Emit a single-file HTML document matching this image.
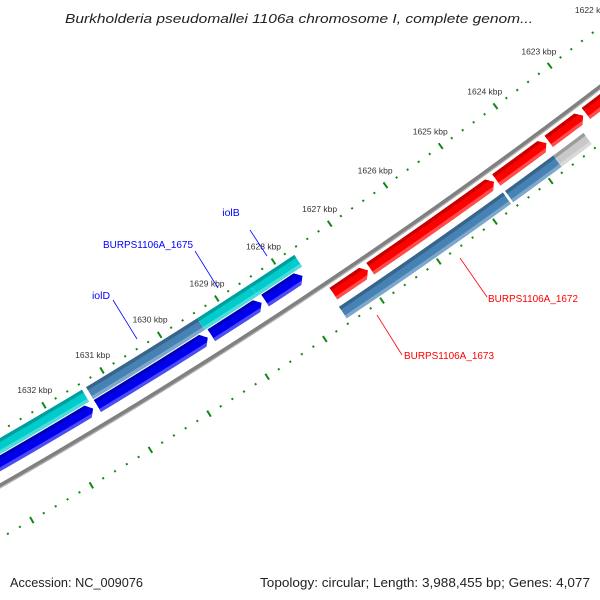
<!DOCTYPE html>
<html><head><meta charset="utf-8"><style>
html,body{margin:0;padding:0;background:#fff;width:600px;height:600px;overflow:hidden}
svg{display:block;font-family:"Liberation Sans",sans-serif}
</style></head><body>
<svg id="map" width="600" height="600" viewBox="0 0 600 600" xmlns="http://www.w3.org/2000/svg">
<defs id="defs"></defs>
<rect width="600" height="600" fill="#fff"/>
<g id="rulers"></g>
<g id="backbone"></g>
<g id="features"></g>
<g id="labels">
  <line x1="250" y1="230" x2="267" y2="256" stroke="#0000ff" stroke-width="0.8"/>
  <text x="231" y="216" font-size="10.5" fill="#0000ff" text-anchor="middle">iolB</text>
  <line x1="195" y1="251" x2="218" y2="288" stroke="#0000ff" stroke-width="0.8"/>
  <text x="103" y="248" font-size="10.5" fill="#0000ff" textLength="90" lengthAdjust="spacingAndGlyphs">BURPS1106A_1675</text>
  <line x1="113" y1="300" x2="137" y2="339" stroke="#0000ff" stroke-width="0.8"/>
  <text x="101" y="299" font-size="10.5" fill="#0000ff" text-anchor="middle">iolD</text>
  <line x1="460" y1="258" x2="487" y2="297" stroke="#ff0000" stroke-width="0.8"/>
  <text x="488" y="302" font-size="10.5" fill="#ff0000" textLength="90" lengthAdjust="spacingAndGlyphs">BURPS1106A_1672</text>
  <line x1="377" y1="315" x2="402" y2="355" stroke="#ff0000" stroke-width="0.8"/>
  <text x="404" y="359" font-size="10.5" fill="#ff0000" textLength="90" lengthAdjust="spacingAndGlyphs">BURPS1106A_1673</text>
</g>
<text x="65" y="23" font-size="13" font-style="italic" fill="#222" textLength="468" lengthAdjust="spacingAndGlyphs">Burkholderia pseudomallei 1106a chromosome I, complete genom...</text>
<text x="10" y="587" font-size="12.5" fill="#222" textLength="133" lengthAdjust="spacingAndGlyphs">Accession: NC_009076</text>
<text x="260" y="587" font-size="12.5" fill="#222" textLength="330" lengthAdjust="spacingAndGlyphs">Topology: circular; Length: 3,988,455 bp; Genes: 4,077</text>
</svg>
<script>
// ruler data
const majorTicks = [1621,1622,1623,1624,1625,1626,1627,1628,1629,1630,1631,1632,1633,1634];
const tickLabels = ["1621 kbp","1622 kbp","1623 kbp","1624 kbp","1625 kbp","1626 kbp","1627 kbp","1628 kbp","1629 kbp","1630 kbp","1631 kbp","1632 kbp","1633 kbp","1634 kbp"];
const minorStep = 0.2;
// feature data (kbp)
const featStart = [1633.6,1631.33,1629.40,1628.48, 1633.6,1631.33,1629.36,1628.42, 1627.53,1626.88,1624.63,1623.68,1623.00, 1627.57,1624.62,1623.75];
const featEnd   = [1631.40,1629.40,1628.48,1627.69, 1631.40,1629.42,1628.48,1627.76, 1626.92,1624.67,1623.72,1623.05,1621.50, 1624.66,1623.75,1623.20];
const featTrack = ["cds","cds","cds","cds","negArrow","negArrow","negArrow","negArrow","posArrow","posArrow","posArrow","posArrow","posArrow","cds2","cds2","cds2"];
const featColor = ["#00cccc","#4682b4","#00cccc","#00cccc","#0000ee","#0000ee","#0000ee","#0000ee","#ff0000","#ff0000","#ff0000","#ff0000","#ff0000","#4682b4","#4682b4","#c8c8c8"];

const NS="http://www.w3.org/2000/svg";
const CX=-2680, CY=-4197, R0=5395;
const TH0=59.38, DEG_PER_KBP=0.7256;
function ang(k){return (TH0-(1632-k)*DEG_PER_KBP)*Math.PI/180;}
function pt(k,r){const a=ang(k);return [CX+r*Math.cos(a),CY+r*Math.sin(a)];}
const trackR={cds:[R0-41,R0-27],negArrow:[R0-26,R0-12],posArrow:[R0+6,R0+20],cds2:[R0+27,R0+41]};
function arcPts(k1,k2,r,n){const o=[];for(let i=0;i<=n;i++){o.push(pt(k1+(k2-k1)*i/n,r));}return o;}
function shade(c,f){const n=parseInt(c.slice(1),16);let r=n>>16,g=(n>>8)&255,b=n&255;
 if(f<0){r*=1+f;g*=1+f;b*=1+f;}else{r+=(255-r)*f;g+=(255-g)*f;b+=(255-b)*f;}
 return "rgb("+Math.round(r)+","+Math.round(g)+","+Math.round(b)+")";}
const P=a=>a.map(p=>p[0].toFixed(2)+","+p[1].toFixed(2)).join(" ");

// rulers
const rul=document.getElementById('rulers');
[R0-47,R0+46].forEach((rr,ri)=>{
 for(let k=1620;k<=1635.001;k+=minorStep){
  const kk=Math.round(k*10)/10;
  const isMajor=majorTicks.indexOf(kk)>=0;
  const a=pt(kk,rr-(isMajor?3.5:1)),b=pt(kk,rr+(isMajor?3.5:1));
  const ln=document.createElementNS(NS,'line');
  ln.setAttribute('x1',a[0]);ln.setAttribute('y1',a[1]);ln.setAttribute('x2',b[0]);ln.setAttribute('y2',b[1]);
  ln.setAttribute('stroke','#118811');ln.setAttribute('stroke-width',isMajor?2:2);
  
  
  rul.appendChild(ln);
 }
 if(ri===0){
  majorTicks.forEach((k,i)=>{
   const p=pt(k,rr-18);
   const t=document.createElementNS(NS,'text');
   t.setAttribute('x',p[0]);t.setAttribute('y',p[1]+3);t.setAttribute('text-anchor','middle');
   t.setAttribute('font-size','8.5');t.setAttribute('fill','#333');
   t.textContent=tickLabels[i];
   
   
   rul.appendChild(t);
  });
 }
});

// backbone
const bb=document.getElementById('backbone');
[[R0+2,'#b4b4b4',2],[R0,'#808080',3.5]].forEach(s=>{
 const pl=document.createElementNS(NS,'polyline');
 pl.setAttribute('points',P(arcPts(1620,1636,s[0],40)));
 pl.setAttribute('fill','none');pl.setAttribute('stroke',s[1]);pl.setAttribute('stroke-width',s[2]);
 
 
 bb.appendChild(pl);
});

// features
const fg=document.getElementById('features'),defs=document.getElementById('defs');
const HEAD=0.09;
featStart.forEach((s,i)=>{
 const e=featEnd[i],tr=featTrack[i],[r1,r2]=trackR[tr],col=featColor[i];
 let pts;
 if(tr==='negArrow'||tr==='posArrow'){
  const dir=e<s?1:-1; // head at e
  const hb=e+dir*HEAD;
  pts=arcPts(s,hb,r1,8).concat([pt(e,(r1+r2)/2)]).concat(arcPts(hb,s,r2,8));
 } else {
  pts=arcPts(s,e,r1,8).concat(arcPts(e,s,r2,8));
 }
 const cp=document.createElementNS(NS,'clipPath');cp.setAttribute('id','cp'+i);
 const cpp=document.createElementNS(NS,'polygon');cpp.setAttribute('points',P(pts));cp.appendChild(cpp);defs.appendChild(cp);
 const g=document.createElementNS(NS,'g');
 g.setAttribute('clip-path','url(#cp'+i+')');
 
 
 const poly=document.createElementNS(NS,'polygon');poly.setAttribute('points',P(pts));poly.setAttribute('fill',col);
 g.appendChild(poly);
 const w=r2-r1;
 [[r1+w*0.12,w*0.26,shade(col,-0.22)],[r2-w*0.12,w*0.26,shade(col,0.3)]].forEach(st=>{
  const pl=document.createElementNS(NS,'polyline');
  pl.setAttribute('points',P(arcPts(s+0.3,e-0.3,st[0],8)));
  pl.setAttribute('fill','none');pl.setAttribute('stroke',st[2]);pl.setAttribute('stroke-width',st[1]);
  g.appendChild(pl);
 });
 fg.appendChild(g);
});
</script>
</body></html>
